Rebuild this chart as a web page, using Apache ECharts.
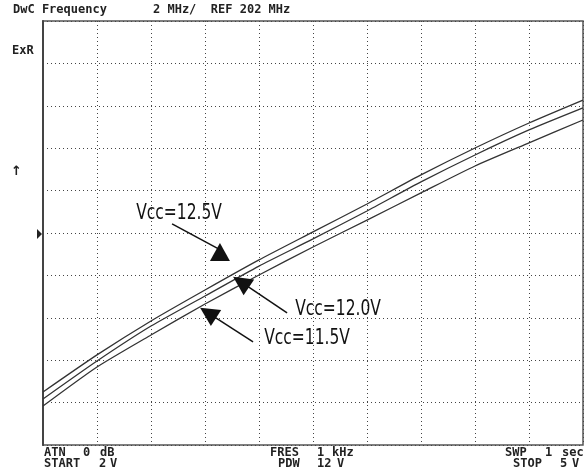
<!DOCTYPE html>
<html>
<head>
<meta charset="utf-8">
<script src="https://cdn.jsdelivr.net/npm/echarts@6/dist/echarts.min.js"></script>
<style>
  html, body { margin: 0; padding: 0; background: #fff; }
  #chart { width: 588px; height: 476px; }
</style>
</head>
<body>
<div id="chart"></div>
<script>
// sweep voltage (V) at each vertical grid line, START 2 V .. STOP 5 V
var sweepVolts = [2.0, 2.3, 2.6, 2.9, 3.2, 3.5, 3.8, 4.1, 4.4, 4.7, 5.0]
// frequency (MHz), REF 202 MHz, 2 MHz/div
var vcc125 = [194.50, 196.25, 197.85, 199.31, 200.73, 202.05, 203.37, 204.74, 206.01, 207.19, 208.27]
var vcc120 = [194.17, 195.96, 197.61, 199.03, 200.44, 201.72, 203.04, 204.41, 205.68, 206.86, 207.90]
var vcc115 = [193.84, 195.68, 197.19, 198.65, 200.02, 201.34, 202.61, 203.89, 205.16, 206.25, 207.33]
var freqMin = 192
var freqMax = 212
var freqStep = 2

// callouts (data coords): label centre, arrow line start / end
var callouts = [
  { text: 'Vcc=12.5V', at: [2.756, 202.90], from: [2.717, 202.43], to: [2.975, 201.25], head: 'none' },
  { text: 'Vcc=12.0V', at: [3.639, 198.37], from: [3.356, 198.23], to: [3.100, 199.69], head: 'triangle' },
  { text: 'Vcc=11.5V', at: [3.467, 197.00], from: [3.167, 196.86], to: [2.917, 198.23], head: 'triangle' }
]
// the 12.5V arrow head stands upright under its line
var upHead = [2.983, 201.10]

function pairs(ys) {
  return sweepVolts.map(function(v, i) { return [v, ys[i]] })
}

var chart = echarts.init(document.getElementById('chart'))

var monoTxt = function(x, y, s) {
  return {
    type: 'text', left: x, top: y,
    style: { text: s, fill: '#222', font: 'bold 12px "DejaVu Sans Mono", monospace' }
  }
}

var traceStyle = { color: '#333', width: 1.3 }

var texts = [
  monoTxt(13, 4, 'DwC Frequency'),
  monoTxt(153, 4, '2 MHz/  REF 202 MHz'),
  monoTxt(12, 45, 'ExR'),
  { type: 'text', left: 11, top: 165, style: { text: '↑', fill: '#222', font: 'bold 13px "DejaVu Sans", sans-serif' } },
  { type: 'polygon', shape: { points: [[37, 229], [42, 234], [37, 239]] }, style: { fill: '#222' } },
  monoTxt(44, 447, 'ATN'),
  monoTxt(83, 447, '0'),
  monoTxt(100, 447, 'dB'),
  monoTxt(44, 458, 'START'),
  monoTxt(99, 458, '2'),
  monoTxt(110, 458, 'V'),
  monoTxt(270, 447, 'FRES'),
  monoTxt(317, 447, '1'),
  monoTxt(332, 447, 'kHz'),
  monoTxt(278, 458, 'PDW'),
  monoTxt(317, 458, '12'),
  monoTxt(337, 458, 'V'),
  monoTxt(505, 447, 'SWP'),
  monoTxt(545, 447, '1'),
  monoTxt(562, 447, 'sec'),
  monoTxt(513, 458, 'STOP'),
  monoTxt(560, 458, '5'),
  monoTxt(572, 458, 'V')
]

chart.setOption({
  animation: false,
  backgroundColor: '#fff',
  grid: {
    left: 43, right: 5, top: 21, bottom: 31,
    show: true, borderColor: '#555', borderWidth: 1.5
  },
  xAxis: [
    {
      type: 'category',
      data: sweepVolts.map(String),
      boundaryGap: false,
      axisLine: { show: false },
      axisTick: { show: false },
      axisLabel: { show: false },
      splitLine: { show: true, interval: 0, lineStyle: { color: '#444', width: 1, type: [1, 3] } }
    },
    {
      type: 'value', min: 2, max: 5, show: false,
      splitLine: { show: false }
    }
  ],
  yAxis: {
    type: 'value',
    min: freqMin, max: freqMax, interval: freqStep,
    axisLine: { show: true, lineStyle: { color: '#444', width: 2 } },
    axisTick: { show: false },
    axisLabel: { show: false },
    splitLine: { show: true, lineStyle: { color: '#444', width: 1, type: [1, 3] } }
  },
  series: [
    {
      name: 'Vcc=12.5V', type: 'line', xAxisIndex: 1, data: pairs(vcc125),
      symbol: 'none', smooth: 0.2, lineStyle: traceStyle,
      markLine: {
        silent: true,
        label: { show: false },
        lineStyle: { color: '#111', width: 1.5, type: 'solid' },
        data: callouts.map(function(c) {
          return [
            { coord: c.from, symbol: 'none' },
            { coord: c.to, symbol: c.head, symbolSize: 19 }
          ]
        })
      },
      markPoint: {
        silent: true,
        data: [{
          coord: upHead, symbol: 'triangle', symbolSize: [20, 18],
          itemStyle: { color: '#111' }, label: { show: false }
        }]
      }
    },
    {
      name: 'Vcc=12.0V', type: 'line', xAxisIndex: 1, data: pairs(vcc120),
      symbol: 'none', smooth: 0.2, lineStyle: traceStyle
    },
    {
      name: 'Vcc=11.5V', type: 'line', xAxisIndex: 1, data: pairs(vcc115),
      symbol: 'none', smooth: 0.2, lineStyle: traceStyle
    }
  ],
  graphic: texts
})

// callout labels: placed through the axes, squeezed to the narrow look of the original
var labels = callouts.map(function(c) {
  var p = chart.convertToPixel({ xAxisIndex: 1, yAxisIndex: 0 }, c.at)
  return {
    type: 'text', x: p[0], y: p[1], scaleX: 0.82,
    style: {
      text: c.text, fill: '#111', align: 'center', verticalAlign: 'middle',
      font: '21px "Liberation Sans Narrow", "DejaVu Sans Condensed", sans-serif'
    }
  }
})
chart.setOption({ graphic: texts.concat(labels) })
</script>
</body>
</html>
